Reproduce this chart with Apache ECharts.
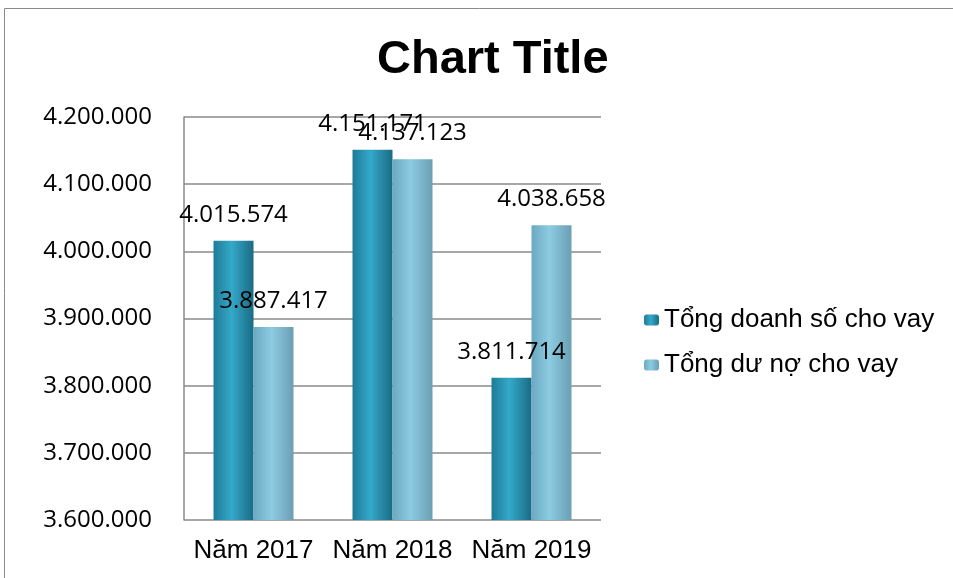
<!DOCTYPE html>
<html>
<head>
<meta charset="utf-8">
<script src="https://cdn.jsdelivr.net/npm/echarts@6/dist/echarts.min.js"></script>
<style>html,body{margin:0;padding:0;background:#fff;}#c{width:953px;height:578px;}</style>
</head>
<body>
<div id="c"></div>
<script>
var categories = ['Năm 2017', 'Năm 2018', 'Năm 2019'];
var seriesNames = ['Tổng doanh số cho vay', 'Tổng dư nợ cho vay'];
var doanhSo = [4015574, 4151171, 3811714];
var duNo = [3887417, 4137123, 4038658];
var yMin = 3600000, yMax = 4200000, yStep = 100000;

function fmt(v) {
  return String(Math.round(v)).replace(/\B(?=(\d{3})+(?!\d))/g, '.');
}
function grad(edge, mid, edge2) {
  return new echarts.graphic.LinearGradient(0, 0, 1, 0, [
    {offset: 0, color: edge}, {offset: 0.45, color: mid}, {offset: 1, color: edge2}
  ]);
}
var chart = echarts.init(document.getElementById('c'));
var labelStyle = {
  show: true, position: 'top', distance: 14, color: '#000',
  fontFamily: 'Open Sans', fontSize: 24,
  formatter: function (p) { return fmt(p.value); }
};
chart.setOption({
  animation: false,
  backgroundColor: '#fff',
  graphic: [{
    type: 'rect', shape: {x: 4.5, y: 8.5, width: 1000, height: 1000},
    style: {fill: 'none', stroke: '#8a8a8a', lineWidth: 1}, silent: true
  }],
  title: {
    text: 'Chart Title', left: 372, top: 32,
    textStyle: {fontFamily: 'Liberation Sans', fontWeight: 'bold', fontSize: 47, color: '#000'}
  },
  legend: {
    orient: 'vertical', left: 639, top: 302, itemGap: 19,
    itemWidth: 15, itemHeight: 11,
    textStyle: {fontFamily: 'Liberation Sans', fontSize: 26, color: '#000', padding: [0, 0, 0, 0]},
    data: seriesNames
  },
  grid: {left: 184, top: 117, width: 417, height: 403, containLabel: false},
  xAxis: {
    type: 'category', data: categories,
    axisLine: {show: false}, axisTick: {show: false},
    axisLabel: {interval: 0, fontFamily: 'Liberation Sans', fontSize: 26, color: '#000', margin: 18}
  },
  yAxis: {
    type: 'value', min: yMin, max: yMax, interval: yStep,
    axisLine: {show: true, lineStyle: {color: '#8a8a8a', width: 1.5}},
    axisTick: {show: false},
    splitLine: {lineStyle: {color: '#8a8a8a', width: 1.5}},
    axisLabel: {fontFamily: 'Open Sans', fontSize: 24, color: '#000', margin: 32, formatter: fmt}
  },
  series: [{
    name: seriesNames[0], type: 'bar', data: doanhSo,
    barWidth: 40, barGap: '0%',
    itemStyle: {color: grad('#1e7b97', '#34a9c9', '#1a6b84')},
    label: labelStyle
  }, {
    name: seriesNames[1], type: 'bar', data: duNo,
    barWidth: 40,
    itemStyle: {color: grad('#6aa9c0', '#8ccbe1', '#6b9fb4')},
    label: labelStyle
  }]
});
</script>
</body>
</html>
